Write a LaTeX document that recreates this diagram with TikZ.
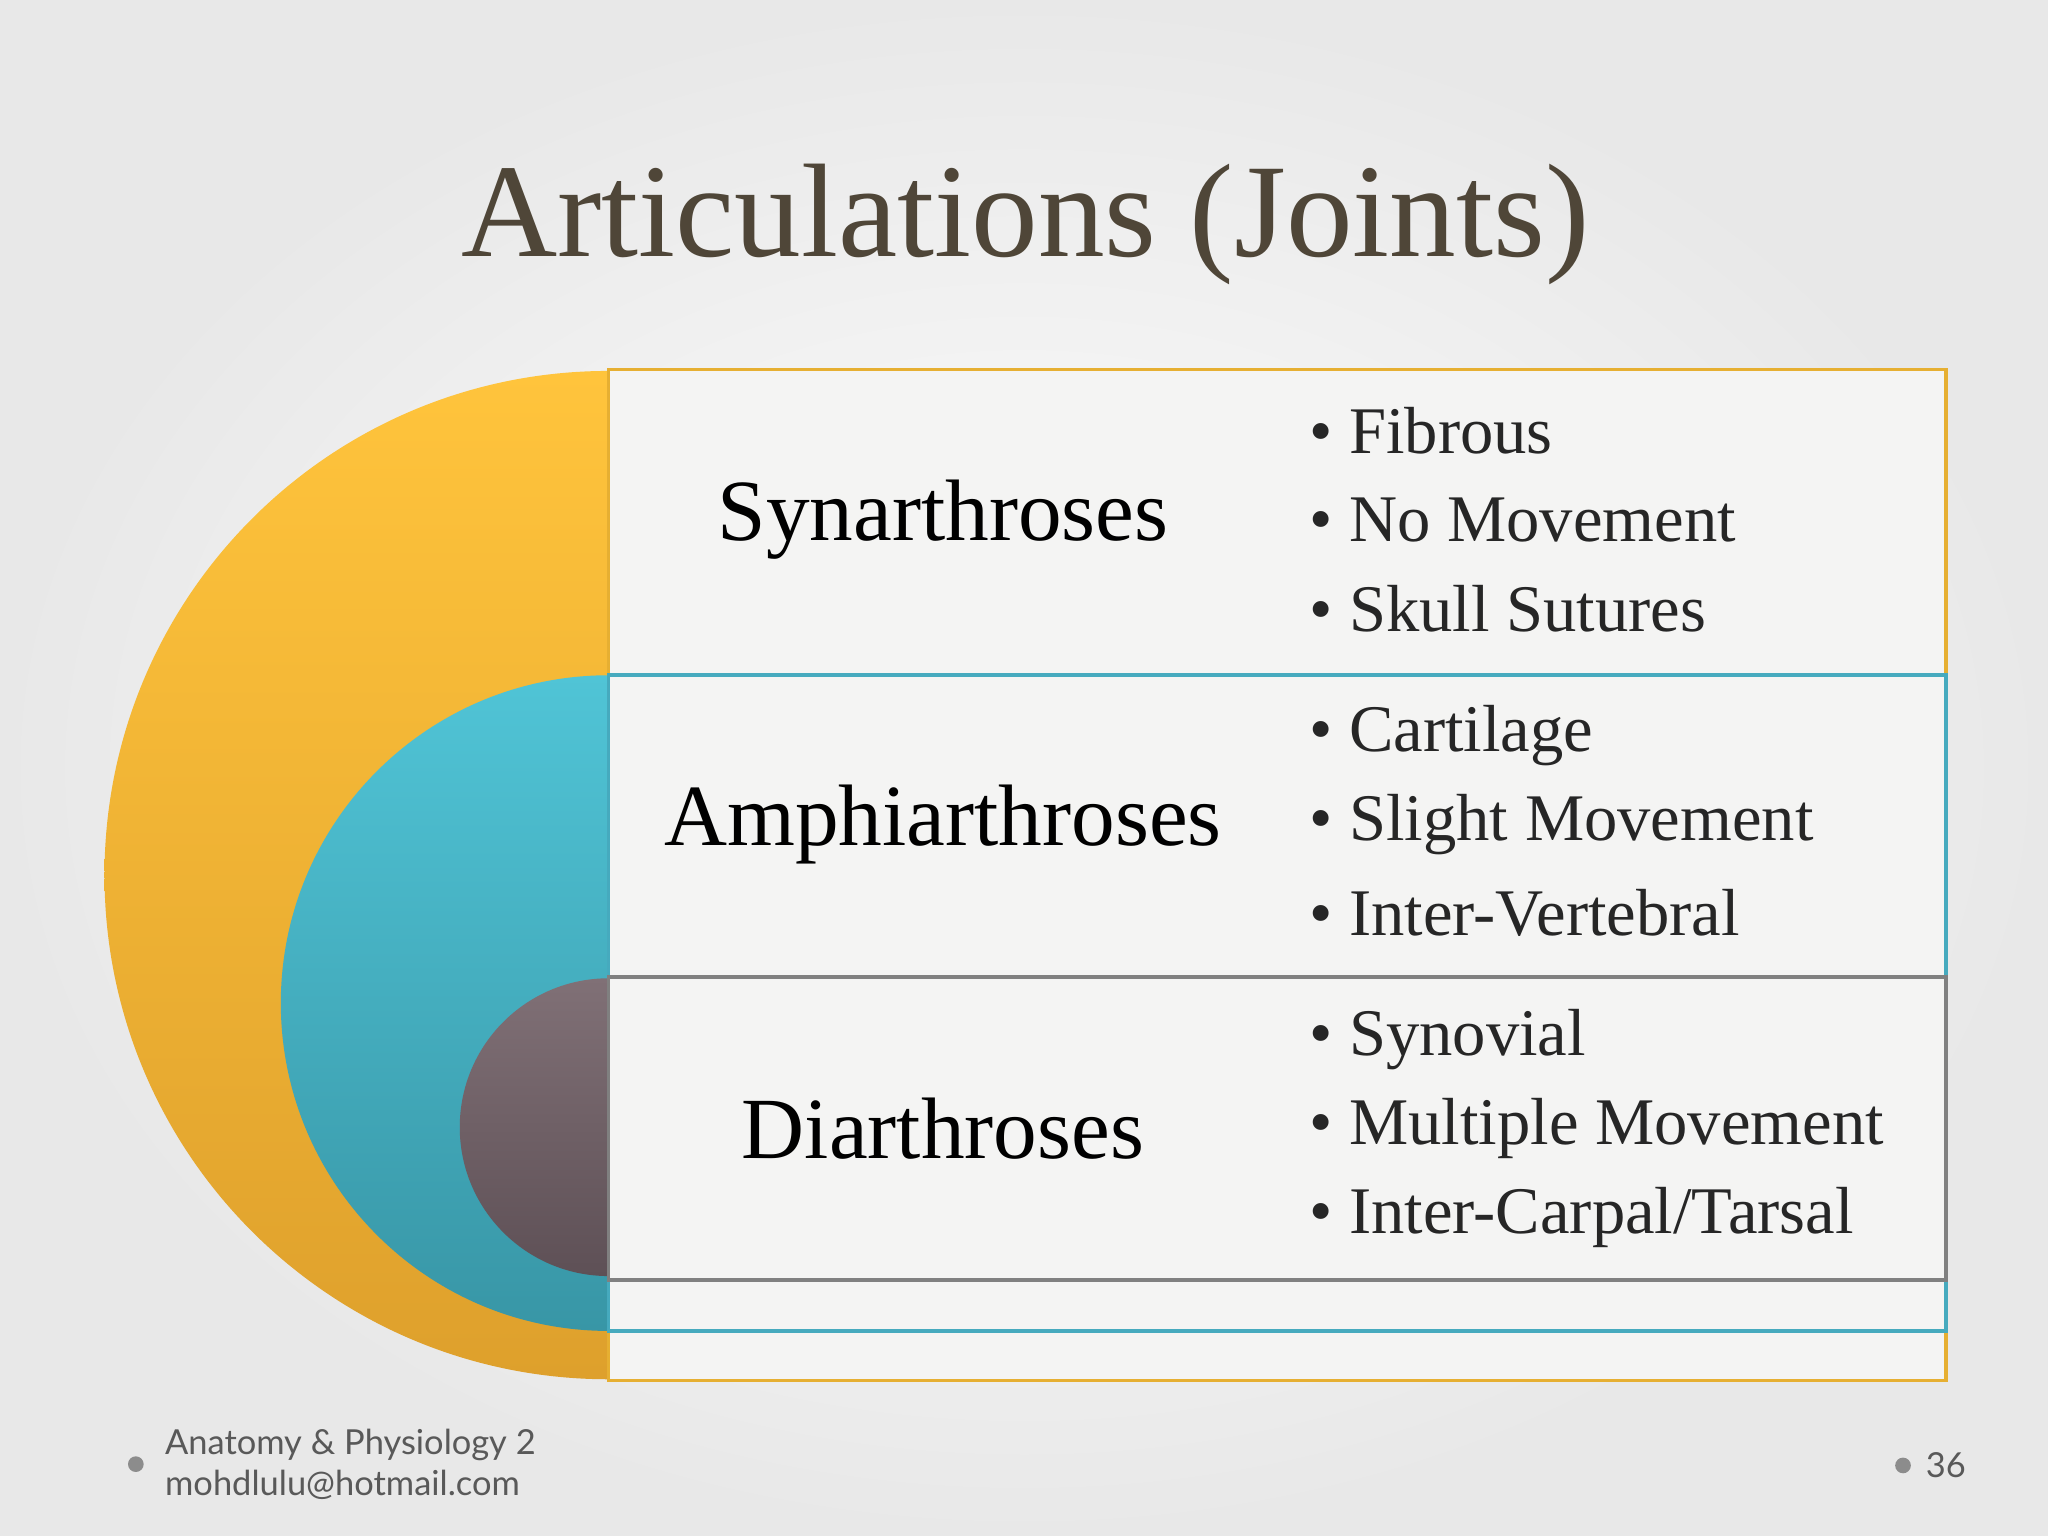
\documentclass[tikz,border=0pt]{standalone}
\usepackage{fontspec}
\setmainfont{Liberation Serif}
\newfontfamily\footfont{Lato}
\begin{document}
\begin{tikzpicture}[x=0.01cm,y=-0.01cm,
  lbl/.style={font=\fontsize{19}{22}\selectfont,text=black},
  itm/.style={anchor=west,font=\fontsize{14.5}{17}\selectfont,text=black!85},
  panel/.style={fill={rgb,255:red,244;green,244;blue,243},line width=0.8pt},
  foot/.style={anchor=west,font=\footfont\fontsize{7.5}{9}\selectfont,text=black!65}]
\shade[inner color=white,outer color=black!9] (0,0) rectangle (1568,1176);
\useasboundingbox (0,0) rectangle (1568,1176);
\node (title) at (785,172) {\fontsize{29}{33}\selectfont\color[HTML]{4F4638}Articulations (Joints)};
% gold
\shade[top color={rgb,255:red,255;green,196;blue,60},bottom color={rgb,255:red,222;green,160;blue,44}]
  (466,284) arc[start angle=270,end angle=90,radius=386] -- cycle;
\draw[panel,draw={rgb,255:red,230;green,175;blue,50}] (466,283) rectangle (1490,1057);
% teal
\shade[top color={rgb,255:red,80;green,196;blue,214},bottom color={rgb,255:red,56;green,150;blue,166}]
  (466,517) arc[start angle=270,end angle=90,radius=251] -- cycle;
\draw[panel,draw={rgb,255:red,70;green,170;blue,190}] (466,517) rectangle (1490,1019);
% purple
\shade[top color={rgb,255:red,128;green,112;blue,118},bottom color={rgb,255:red,94;green,80;blue,86}]
  (466,749) arc[start angle=270,end angle=90,radius=114] -- cycle;
\draw[panel,draw=black!50] (466,748) rectangle (1490,980);
\node[lbl] (s) at (722,398) {Synarthroses};
\node[lbl] (a) at (722,631) {Amphiarthroses};
\node[lbl] (d) at (722,864) {Diarthroses};
\node[itm] (s1) at (990,330) {• Fibrous};
\node[itm] (s2) at (990,398) {• No Movement};
\node[itm] (s3) at (990,466) {• Skull Sutures};
\node[itm] (a1) at (990,563) {• Cartilage};
\node[itm] (a2) at (990,631) {• Slight Movement};
\node[itm] (a3) at (990,699) {• Inter-Vertebral};
\node[itm] (d1) at (990,796) {• Synovial};
\node[itm] (d2) at (990,864) {• Multiple Movement};
\node[itm] (d3) at (990,932) {• Inter-Carpal/Tarsal};
\fill[black!45] (104,1121) circle (6);
\node[foot] (f1) at (114,1106) {Anatomy \& Physiology 2};
\node[foot] (f2) at (114,1137) {mohdlulu@hotmail.com};
\fill[black!45] (1457,1122) circle (6);
\node[foot] (pg) at (1462,1122) {36};
\end{tikzpicture}
\end{document}
